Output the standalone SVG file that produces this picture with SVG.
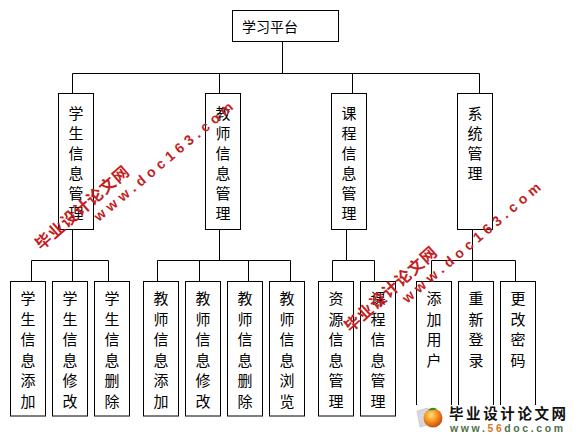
<svg xmlns="http://www.w3.org/2000/svg" width="578" height="437" viewBox="0 0 578 437">
<defs>
<style>
.box{fill:#fff;stroke:#000;stroke-width:1}
.lbl{font-family:"Noto Sans CJK SC","Noto Sans CJK JP",sans-serif;font-size:15px;fill:#000;text-anchor:middle;dominant-baseline:central}
.top{font-family:"Noto Sans CJK SC","Noto Sans CJK JP",sans-serif;font-size:14px;fill:#000;dominant-baseline:central}
.conn{fill:none;stroke:#000;stroke-width:1}
.wmc{font-family:"Noto Sans CJK SC","Noto Sans CJK JP",sans-serif;font-weight:bold;font-size:16px;fill:#c41d22;text-anchor:middle;dominant-baseline:central;letter-spacing:1px}
.wme{font-family:"Liberation Sans",Arial,sans-serif;font-weight:bold;font-size:14px;fill:#c41d22;text-anchor:middle;dominant-baseline:central;letter-spacing:4.6px}
</style>
<radialGradient id="ball" cx="0.4" cy="0.35" r="0.7">
<stop offset="0" stop-color="#ffe27a"/>
<stop offset="0.5" stop-color="#f5901e"/>
<stop offset="1" stop-color="#c8400c"/>
</radialGradient>
</defs>
<rect width="578" height="437" fill="#fff"/>
<g id="connectors">
<path class="conn" d="M282.5 41.5V73.5M72.5 73.5H479.5M72.5 73.5V93.5M219.5 73.5V93.5M352.5 73.5V93.5M479.5 73.5V93.5"/>
<path class="conn" d="M72.5 229.5V281.5M31.5 260.5H108.5M31.5 260.5V281.5M108.5 260.5V281.5"/>
<path class="conn" d="M219.5 229.5V260.5M157.5 260.5H290.5M157.5 260.5V281.5M199.5 260.5V281.5M248.5 260.5V281.5M290.5 260.5V281.5"/>
<path class="conn" d="M346.5 229.5V260.5M332.5 260.5H374.5M332.5 260.5V281.5M374.5 260.5V281.5"/>
<path class="conn" d="M472.5 229.5V281.5M431.5 260.5H515.5M431.5 260.5V281.5M515.5 260.5V281.5"/>
</g>
<g id="n-root"><rect class="box" x="232.5" y="10.5" width="106" height="31"/><text class="top" x="242" y="26">学习平台</text></g>
<g id="n-student"><rect class="box" x="58.5" y="93.5" width="35" height="136"/><text class="lbl"><tspan x="76" y="111.7">学</tspan><tspan x="76" y="131.8">生</tspan><tspan x="76" y="151.9">信</tspan><tspan x="76" y="172">息</tspan><tspan x="76" y="192.1">管</tspan><tspan x="76" y="212.2">理</tspan></text></g>
<g id="n-teacher"><rect class="box" x="205.5" y="93.5" width="35" height="136"/><text class="lbl"><tspan x="223" y="111.7">教</tspan><tspan x="223" y="131.8">师</tspan><tspan x="223" y="151.9">信</tspan><tspan x="223" y="172">息</tspan><tspan x="223" y="192.1">管</tspan><tspan x="223" y="212.2">理</tspan></text></g>
<g id="n-course"><rect class="box" x="331.5" y="93.5" width="35" height="136"/><text class="lbl"><tspan x="349" y="111.7">课</tspan><tspan x="349" y="131.8">程</tspan><tspan x="349" y="151.9">信</tspan><tspan x="349" y="172">息</tspan><tspan x="349" y="192.1">管</tspan><tspan x="349" y="212.2">理</tspan></text></g>
<g id="n-system"><rect class="box" x="457.5" y="93.5" width="35" height="136"/><text class="lbl"><tspan x="475" y="111.7">系</tspan><tspan x="475" y="131.8">统</tspan><tspan x="475" y="151.9">管</tspan><tspan x="475" y="172">理</tspan></text></g>
<g id="n-s-add"><rect class="box" x="10.5" y="281.5" width="35" height="134.5"/><text class="lbl"><tspan x="28" y="297">学</tspan><tspan x="28" y="317.6">生</tspan><tspan x="28" y="338.2">信</tspan><tspan x="28" y="358.8">息</tspan><tspan x="28" y="379.4">添</tspan><tspan x="28" y="400">加</tspan></text></g>
<g id="n-s-edit"><rect class="box" x="52.5" y="281.5" width="35" height="134.5"/><text class="lbl"><tspan x="70" y="297">学</tspan><tspan x="70" y="317.6">生</tspan><tspan x="70" y="338.2">信</tspan><tspan x="70" y="358.8">息</tspan><tspan x="70" y="379.4">修</tspan><tspan x="70" y="400">改</tspan></text></g>
<g id="n-s-del"><rect class="box" x="94.5" y="281.5" width="35" height="134.5"/><text class="lbl"><tspan x="112" y="297">学</tspan><tspan x="112" y="317.6">生</tspan><tspan x="112" y="338.2">信</tspan><tspan x="112" y="358.8">息</tspan><tspan x="112" y="379.4">删</tspan><tspan x="112" y="400">除</tspan></text></g>
<g id="n-t-add"><rect class="box" x="143.5" y="281.5" width="35" height="134.5"/><text class="lbl"><tspan x="161" y="297">教</tspan><tspan x="161" y="317.6">师</tspan><tspan x="161" y="338.2">信</tspan><tspan x="161" y="358.8">息</tspan><tspan x="161" y="379.4">添</tspan><tspan x="161" y="400">加</tspan></text></g>
<g id="n-t-edit"><rect class="box" x="185.5" y="281.5" width="35" height="134.5"/><text class="lbl"><tspan x="203" y="297">教</tspan><tspan x="203" y="317.6">师</tspan><tspan x="203" y="338.2">信</tspan><tspan x="203" y="358.8">息</tspan><tspan x="203" y="379.4">修</tspan><tspan x="203" y="400">改</tspan></text></g>
<g id="n-t-del"><rect class="box" x="227.5" y="281.5" width="35" height="134.5"/><text class="lbl"><tspan x="245" y="297">教</tspan><tspan x="245" y="317.6">师</tspan><tspan x="245" y="338.2">信</tspan><tspan x="245" y="358.8">息</tspan><tspan x="245" y="379.4">删</tspan><tspan x="245" y="400">除</tspan></text></g>
<g id="n-t-browse"><rect class="box" x="269.5" y="281.5" width="35" height="134.5"/><text class="lbl"><tspan x="287" y="297">教</tspan><tspan x="287" y="317.6">师</tspan><tspan x="287" y="338.2">信</tspan><tspan x="287" y="358.8">息</tspan><tspan x="287" y="379.4">浏</tspan><tspan x="287" y="400">览</tspan></text></g>
<g id="n-c-res"><rect class="box" x="318.5" y="281.5" width="35" height="134.5"/><text class="lbl"><tspan x="336" y="297">资</tspan><tspan x="336" y="317.6">源</tspan><tspan x="336" y="338.2">信</tspan><tspan x="336" y="358.8">息</tspan><tspan x="336" y="379.4">管</tspan><tspan x="336" y="400">理</tspan></text></g>
<g id="n-c-course"><rect class="box" x="360.5" y="281.5" width="35" height="134.5"/><text class="lbl"><tspan x="378" y="297">课</tspan><tspan x="378" y="317.6">程</tspan><tspan x="378" y="338.2">信</tspan><tspan x="378" y="358.8">息</tspan><tspan x="378" y="379.4">管</tspan><tspan x="378" y="400">理</tspan></text></g>
<g id="n-y-add"><rect class="box" x="416.5" y="281.5" width="35" height="134.5"/><text class="lbl"><tspan x="434" y="297">添</tspan><tspan x="434" y="317.6">加</tspan><tspan x="434" y="338.2">用</tspan><tspan x="434" y="358.8">户</tspan></text></g>
<g id="n-y-relogin"><rect class="box" x="458.5" y="281.5" width="35" height="134.5"/><text class="lbl"><tspan x="476" y="297">重</tspan><tspan x="476" y="317.6">新</tspan><tspan x="476" y="338.2">登</tspan><tspan x="476" y="358.8">录</tspan></text></g>
<g id="n-y-pwd"><rect class="box" x="500.5" y="281.5" width="35" height="134.5"/><text class="lbl"><tspan x="518" y="297">更</tspan><tspan x="518" y="317.6">改</tspan><tspan x="518" y="338.2">密</tspan><tspan x="518" y="358.8">码</tspan></text></g>
<g id="watermarks">
<text class="wmc" transform="translate(81.5 206.5) rotate(-41)">毕业设计论文网</text>
<text class="wme" transform="translate(165 160) rotate(-40)">www.doc163.com</text>
<text class="wmc" transform="translate(390 288) rotate(-42)">毕业设计论文网</text>
<text class="wme" transform="translate(473 241) rotate(-40.5)">www.doc163.com</text>
<rect x="413" y="405" width="165" height="29" fill="#fff"/>
<path d="M417 411 L428 408 L431 424 L420 427 Z" fill="#d8d8dc" stroke="#b8b8c0" stroke-width="0.6"/>
<circle cx="433" cy="418" r="9.5" fill="url(#ball)"/>
<path d="M428 410 Q432 406 437 409 Q433 411 428 410Z" fill="#3b8a2a"/>
<text x="449" y="419" font-family="Noto Sans CJK SC,sans-serif" font-weight="bold" font-size="14.5" letter-spacing="2.6" fill="#111">毕业设计论文网</text>
<text x="450" y="432" font-family="Liberation Sans,Arial,sans-serif" font-weight="bold" font-size="10.5" letter-spacing="2.6" fill="#4f6f4a">www.<tspan fill="#d9781e">56</tspan>doc.com</text>
</g>
</svg>
